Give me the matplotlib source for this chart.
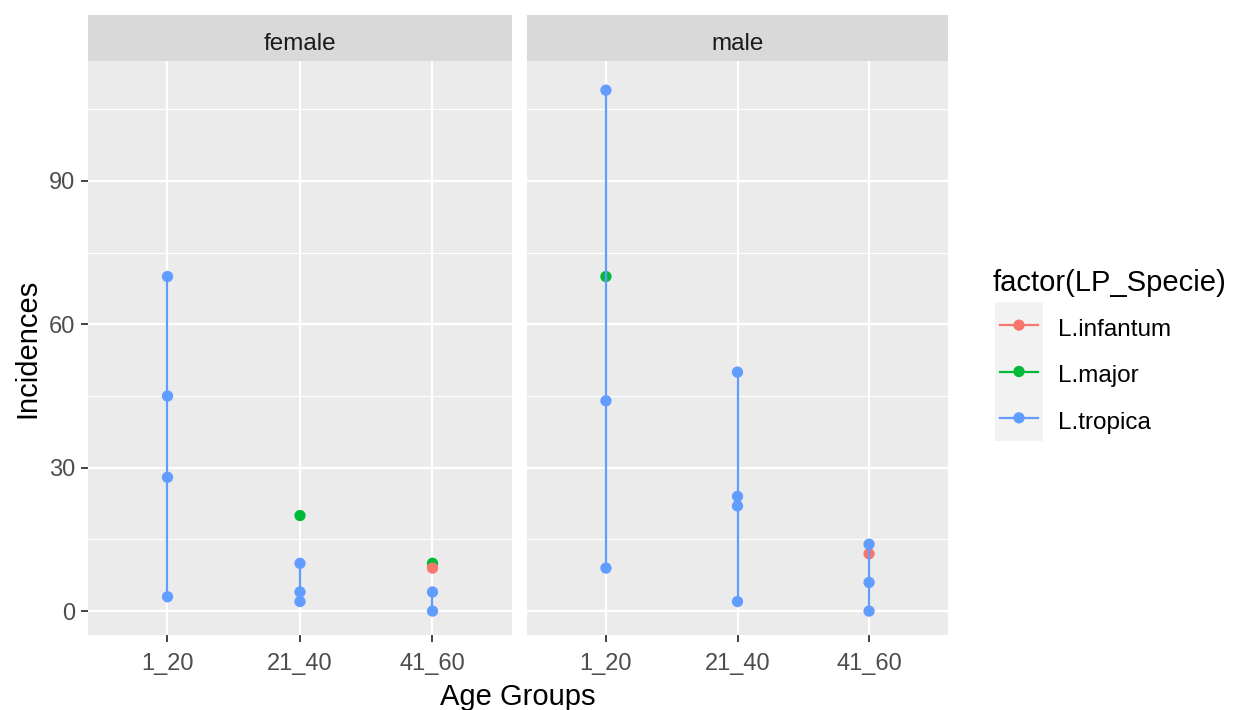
import matplotlib
matplotlib.use('Agg')
import matplotlib.pyplot as plt
from matplotlib.ticker import MultipleLocator
import pandas as pd

# incidence records, one row per observation
sexes = ['female', 'male']
age_groups = ['1_20', '21_40', '41_60']
species = ['L.infantum', 'L.major', 'L.tropica']

sex = (['female'] * 4 + ['female'] * 4 + ['female'] * 4
       + ['male'] * 4 + ['male'] * 4 + ['male'] * 4)
age = (['1_20'] * 4 + ['21_40'] * 4 + ['41_60'] * 4
       + ['1_20'] * 4 + ['21_40'] * 4 + ['41_60'] * 4)
specie = ['L.tropica', 'L.tropica', 'L.tropica', 'L.tropica',
          'L.major', 'L.tropica', 'L.tropica', 'L.tropica',
          'L.major', 'L.infantum', 'L.tropica', 'L.tropica',
          'L.tropica', 'L.major', 'L.tropica', 'L.tropica',
          'L.tropica', 'L.tropica', 'L.tropica', 'L.tropica',
          'L.tropica', 'L.infantum', 'L.tropica', 'L.tropica']
incidences = [70, 45, 28, 3,
              20, 10, 4, 2,
              10, 9, 4, 0,
              109, 70, 44, 9,
              50, 24, 22, 2,
              14, 12, 6, 0]

df = pd.DataFrame({'sex': sex, 'age': age, 'specie': specie, 'inc': incidences})

colors = {'L.infantum': '#F8766D', 'L.major': '#00BA38', 'L.tropica': '#619CFF'}
draw_order = ['L.major', 'L.infantum', 'L.tropica']

plt.rcParams['font.family'] = ['Liberation Sans', 'DejaVu Sans']

W, H = 1245, 710
fig = plt.figure(figsize=(W / 100, H / 100), dpi=100)
fig.patch.set_facecolor('white')

panel_bottom = 1 - 635 / H
panel_top = 1 - 61 / H
strip_top = 1 - 15 / H
panels = {'female': (88, 512), 'male': (527, 948)}

ymax = df['inc'].max()
age_pos = {a: i + 1 for i, a in enumerate(age_groups)}

axes = []
for s in sexes:
    x0, x1 = panels[s]
    ax = fig.add_axes([x0 / W, panel_bottom, (x1 - x0) / W, panel_top - panel_bottom])
    ax.set_facecolor('#EBEBEB')
    for sp in ax.spines.values():
        sp.set_visible(False)
    ax.set_xlim(0.4, 3.6)
    ax.set_ylim(-5.0, ymax + 6.1)
    ax.yaxis.set_major_locator(MultipleLocator(30))
    ax.yaxis.set_minor_locator(MultipleLocator(15))
    ax.set_xticks([1, 2, 3])
    ax.set_xticklabels(age_groups)
    ax.grid(which='major', color='white', linewidth=1.6)
    ax.grid(which='minor', axis='y', color='white', linewidth=0.8)
    ax.set_axisbelow(True)
    ax.tick_params(which='major', length=5, width=1.3, color='#333333',
                   labelsize=17, labelcolor='#4D4D4D', pad=4)
    ax.tick_params(axis='x', which='major', pad=8)
    ax.tick_params(which='minor', length=0)
    if s == 'male':
        ax.tick_params(axis='y', which='both', left=False, labelleft=False)

    sub = df[df['sex'] == s]
    for sp_name in draw_order:
        d = sub[sub['specie'] == sp_name]
        ax.scatter(d['age'].map(age_pos), d['inc'], s=66, color=colors[sp_name],
                   edgecolors='none', zorder=3)
    # vertical connecting lines within each age group
    for sp_name in species:
        for a in age_groups:
            d = sub[(sub['specie'] == sp_name) & (sub['age'] == a)].sort_values('inc')
            if len(d) > 1:
                ax.plot(d['age'].map(age_pos), d['inc'], color=colors[sp_name],
                        linewidth=1.6, zorder=4)

    # facet strip
    sax = fig.add_axes([x0 / W, panel_top, (x1 - x0) / W, strip_top - panel_top])
    sax.set_facecolor('#D9D9D9')
    sax.set_xticks([])
    sax.set_yticks([])
    for sp in sax.spines.values():
        sp.set_visible(False)
    sax.text(0.5, 0.38, s, ha='center', va='center', fontsize=17.5, color='#1A1A1A',
             transform=sax.transAxes)
    axes.append(ax)

fig.text(27 / W, 1 - 348 / H, 'Incidences', rotation=90, ha='center', va='center',
         fontsize=21, color='black')
fig.text(518 / W, 1 - 697 / H, 'Age Groups', ha='center', va='center',
         fontsize=21, color='black')

# legend
fig.text(993 / W, 1 - 283 / H, 'factor(LP_Specie)', ha='left', va='center',
         fontsize=21, color='black')
lax = fig.add_axes([995 / W, 1 - 441 / H, 48 / W, 139 / H])
lax.set_facecolor('#F2F2F2')
lax.set_xlim(0, 1)
lax.set_ylim(0, 3)
lax.set_xticks([])
lax.set_yticks([])
for sp in lax.spines.values():
    sp.set_visible(False)
for i, sp_name in enumerate(species):
    yk = 2.5 - i
    lax.plot([0.1, 0.9], [yk, yk], color=colors[sp_name], linewidth=1.6)
    lax.scatter([0.5], [yk], s=66, color=colors[sp_name], edgecolors='none', zorder=3)
    fig.text(1058 / W, 1 - (307 + 139 * (i + 0.5) / 3) / H, sp_name, ha='left',
             va='center', fontsize=17.5, color='black')

fig.savefig('out.png', dpi=100)
